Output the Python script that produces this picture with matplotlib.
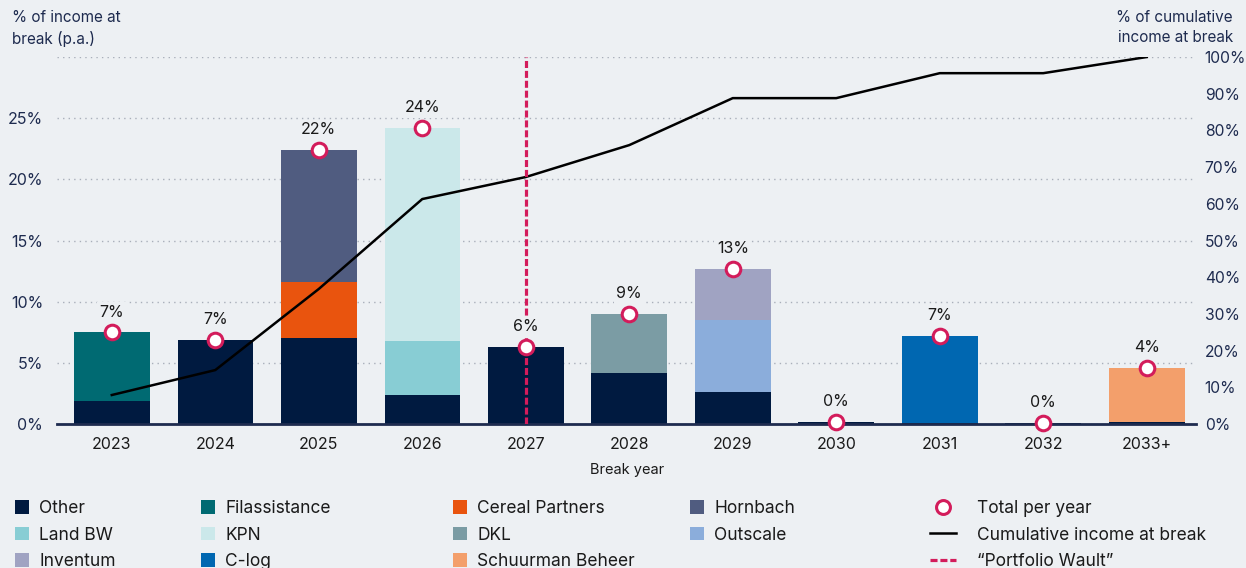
import numpy as np
import matplotlib
matplotlib.use("Agg")
import matplotlib.pyplot as plt
from matplotlib.patches import Patch
from matplotlib.lines import Line2D

plt.rcParams['font.family'] = ['Inter', 'DejaVu Sans']

# data (% of income at break, p.a.)
years = ["2023", "2024", "2025", "2026", "2027", "2028", "2029", "2030", "2031", "2032", "2033+"]
other = [1.9, 6.9, 7.0, 2.4, 6.3, 4.2, 2.6, 0.2, 0.1, 0.1, 0.2]
filassistance = [5.6, 0, 0, 0, 0, 0, 0, 0, 0, 0, 0]
cereal_partners = [0, 0, 4.6, 0, 0, 0, 0, 0, 0, 0, 0]
hornbach = [0, 0, 10.8, 0, 0, 0, 0, 0, 0, 0, 0]
land_bw = [0, 0, 0, 4.4, 0, 0, 0, 0, 0, 0, 0]
kpn = [0, 0, 0, 17.4, 0, 0, 0, 0, 0, 0, 0]
dkl = [0, 0, 0, 0, 0, 4.8, 0, 0, 0, 0, 0]
outscale = [0, 0, 0, 0, 0, 0, 5.9, 0, 0, 0, 0]
inventum = [0, 0, 0, 0, 0, 0, 4.2, 0, 0, 0, 0]
c_log = [0, 0, 0, 0, 0, 0, 0, 0, 7.1, 0, 0]
schuurman = [0, 0, 0, 0, 0, 0, 0, 0, 0, 0, 4.4]
total_labels = ["7%", "7%", "22%", "24%", "6%", "9%", "13%", "0%", "7%", "0%", "4%"]
cumulative = [7.9, 14.7, 36.8, 61.3, 67.3, 76.0, 88.8, 88.8, 95.6, 95.6, 100.0]
wault_year = "2027"

series = [
    ("Other", other, "#001A40"),
    ("Filassistance", filassistance, "#006A72"),
    ("Cereal Partners", cereal_partners, "#E9540E"),
    ("Hornbach", hornbach, "#505C80"),
    ("Land BW", land_bw, "#88CDD4"),
    ("KPN", kpn, "#CBE8EA"),
    ("DKL", dkl, "#7B9CA4"),
    ("Outscale", outscale, "#8BADDB"),
    ("Inventum", inventum, "#A0A3C2"),
    ("C-log", c_log, "#0067B1"),
    ("Schuurman Beheer", schuurman, "#F39F6B"),
]

bg = "#EDF0F3"
navy = "#1E2B4F"
crimson = "#D31C5B"

fig = plt.figure(figsize=(12.46, 5.68), dpi=100, facecolor=bg)
ax = fig.add_axes([0.0457, 0.2535, 0.9145, 0.6461])
ax.set_facecolor(bg)

x = np.arange(len(years))
bottom = np.zeros(len(years))
for name, vals, col in series:
    vals = np.array(vals, dtype=float)
    ax.bar(x, vals, 0.73, bottom=bottom, color=col, linewidth=0, zorder=2)
    bottom += vals
totals = bottom

ax.set_xlim(-0.53, len(years) - 0.52)
ax.set_ylim(0, 30)
ax.set_yticks(np.arange(0, 31, 5))
ax.set_yticklabels([f"{v}%" for v in range(0, 26, 5)] + [""])
ax.set_xticks(x)
ax.set_xticklabels(years)
ax.grid(axis="y", color="#A9AFBA", linestyle=(0, (1, 3)), linewidth=1.0, zorder=0)
for s in ["top", "right", "left"]:
    ax.spines[s].set_visible(False)
ax.spines["bottom"].set_color(navy)
ax.spines["bottom"].set_linewidth(2)
ax.spines["bottom"].set_zorder(3)
ax.tick_params(axis="y", length=0, pad=10, labelsize=11.5, labelcolor=navy)
ax.tick_params(axis="x", length=0, pad=9, labelsize=11.5, labelcolor="#1A1A1A")
ax.set_xlabel("Break year", fontsize=10.5, color="#1A1A1A", labelpad=8)

ax2 = ax.twinx()
ax2.set_ylim(0, 100)
ax2.set_yticks(np.arange(0, 101, 10))
ax2.set_yticklabels([f"{v}%" for v in range(0, 101, 10)])
ax2.tick_params(axis="y", length=0, pad=6, labelsize=11.3, labelcolor=navy)
for s in ax2.spines.values():
    s.set_visible(False)

ax2.plot(x, cumulative, color="black", linewidth=1.8, zorder=3)
wx = years.index(wault_year)
ax2.axvline(wx, color=crimson, linestyle=(0, (2.2, 0.9)), linewidth=2.3, zorder=4)

for i in range(len(years)):
    ax2.annotate(total_labels[i], (x[i], totals[i]), xycoords=ax.transData,
                 xytext=(0, 14.5), textcoords="offset points", ha="center", va="center",
                 fontsize=11.5, color="#1A1A1A", zorder=5,
                 bbox=dict(boxstyle="square,pad=0.15", fc=bg, ec="none"))
ax2.plot(x, totals, "o", transform=ax.transData, markersize=10.5, markerfacecolor="white",
         markeredgecolor=crimson, markeredgewidth=2.2, zorder=6, clip_on=False)

fig.text(12 / 1246, 1 - 10 / 568, "% of income at\nbreak (p.a.)", ha="left", va="top",
         fontsize=11, color=navy, linespacing=1.45)
fig.text(1233 / 1246, 1 - 10 / 568, "% of cumulative\nincome at break", ha="right", va="top",
         fontsize=11, color=navy, linespacing=1.45)

# legend, built column by column
cols = [
    ["Other", "Land BW", "Inventum"],
    ["Filassistance", "KPN", "C-log"],
    ["Cereal Partners", "DKL", "Schuurman Beheer"],
    ["Hornbach", "Outscale"],
]
colors = {name: col for name, _, col in series}
col_x = [15, 201, 453, 690]
leg_top = 1 - 500 / 568
for names, cx in zip(cols, col_x):
    handles = [Patch(facecolor=colors[n], edgecolor="none") for n in names]
    fig.legend(handles, names, loc="upper left", bbox_to_anchor=(cx / 1246, leg_top),
               frameon=False, fontsize=12.5, handlelength=0.8, handleheight=0.8,
               handletextpad=0.6, labelspacing=0.55, borderpad=0, borderaxespad=0,
               labelcolor="#1A1A1A")
h5 = [
    Line2D([], [], marker="o", linestyle="none", markersize=10, markerfacecolor="white",
           markeredgecolor=crimson, markeredgewidth=2.2),
    Line2D([], [], color="black", linewidth=1.8),
    Line2D([], [], color=crimson, linestyle=(0, (2.2, 0.9)), linewidth=2.3),
]
fig.legend(h5, ["Total per year", "Cumulative income at break", "\u201cPortfolio Wault\u201d"],
           loc="upper left", bbox_to_anchor=(930 / 1246, leg_top), frameon=False,
           fontsize=12.5, handlelength=1.5, handletextpad=1.2, labelspacing=0.55,
           borderpad=0, borderaxespad=0, labelcolor="#1A1A1A")

fig.savefig("out.png", dpi=100, facecolor=bg)
